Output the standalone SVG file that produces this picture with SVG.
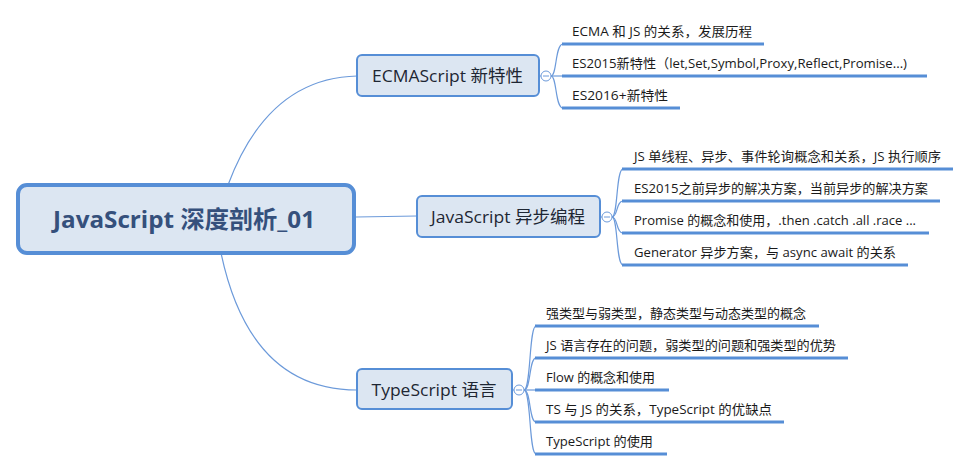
<svg xmlns="http://www.w3.org/2000/svg" width="971" height="471" viewBox="0 0 971 471">
<style>
.bg{fill:#ffffff}
.root{fill:#dce6f2;stroke:#568ed6;stroke-width:4}
.rootT{font-family:"Open Sans","Noto Sans CJK SC",sans-serif;font-size:24px;font-weight:bold;fill:#35507c}
.br{fill:#dce6f2;stroke:#568ed6;stroke-width:2}
.brT{font-family:"Open Sans","Noto Sans CJK SC",sans-serif;font-size:17px;fill:#1e2633}
.lf{font-family:"Open Sans","Noto Sans CJK SC",sans-serif;font-size:13px;fill:#1a1a1a}
.ul{stroke:#568ed6;stroke-width:3;fill:none}
.con{stroke:#6c9ada;stroke-width:1.2;fill:none}
.tog{fill:#ffffff;stroke:#6c9ada;stroke-width:1}
.togm{stroke:#6c9ada;stroke-width:1}
</style>
<rect class="bg" x="0" y="0" width="971" height="471"/>
<g id="connectors">
  <path class="con" d="M228,185 Q268,78 357,76"/>
  <path class="con" d="M356,217 L417,216"/>
  <path class="con" d="M221,253 Q250,390 357,390"/>
  <path class="con" d="M539,76 L541,76"/>
  <path class="con" d="M551,76 C557,76 555,44 563,44"/>
  <path class="con" d="M551,76 L563,76"/>
  <path class="con" d="M551,76 C557,76 555,108 563,108"/>
  <path class="con" d="M600,217 L602,217"/>
  <path class="con" d="M612,217 C618,217 616,169 623,169"/>
  <path class="con" d="M612,217 C618,217 616,201 623,201"/>
  <path class="con" d="M612,217 C618,217 616,233 623,233"/>
  <path class="con" d="M612,217 C618,217 616,265 623,265"/>
  <path class="con" d="M512,390 L514,390"/>
  <path class="con" d="M524,390 C531,390 529,326 536,326"/>
  <path class="con" d="M524,390 C531,390 529,358 536,358"/>
  <path class="con" d="M524,390 L536,390"/>
  <path class="con" d="M524,390 C531,390 529,422 536,422"/>
  <path class="con" d="M524,390 C531,390 529,454 536,454"/>
</g>
<g id="root">
  <rect class="root" x="18" y="185" width="336" height="68" rx="9"/>
  <text class="rootT" x="184" y="228" text-anchor="middle" textLength="262" lengthAdjust="spacingAndGlyphs">JavaScript 深度剖析_01</text>
</g>
<g id="branch-ecma">
  <rect class="br" x="357" y="55" width="182" height="41" rx="5"/>
  <text class="brT" x="447.5" y="82" text-anchor="middle" textLength="151" lengthAdjust="spacingAndGlyphs">ECMAScript 新特性</text>
  <circle class="tog" cx="546" cy="76" r="5"/>
  <line class="togm" x1="543" y1="76" x2="549" y2="76"/>
</g>
<g id="branch-async">
  <rect class="br" x="417" y="196" width="183" height="41" rx="5"/>
  <text class="brT" x="508" y="223" text-anchor="middle" textLength="154" lengthAdjust="spacingAndGlyphs">JavaScript 异步编程</text>
  <circle class="tog" cx="607" cy="217" r="5"/>
  <line class="togm" x1="604" y1="217" x2="610" y2="217"/>
</g>
<g id="branch-ts">
  <rect class="br" x="357" y="369" width="155" height="40" rx="5"/>
  <text class="brT" x="434" y="396" text-anchor="middle" textLength="125" lengthAdjust="spacingAndGlyphs">TypeScript 语言</text>
  <circle class="tog" cx="519" cy="390" r="5"/>
  <line class="togm" x1="516" y1="390" x2="522" y2="390"/>
</g>
<g id="leaf-ecma-1">
  <text class="lf" x="572" y="35.5" textLength="180" lengthAdjust="spacingAndGlyphs">ECMA 和 JS 的关系，发展历程</text>
  <line class="ul" x1="562" y1="44" x2="764" y2="44"/>
</g>
<g id="leaf-ecma-2">
  <text class="lf" x="572" y="67.5" textLength="335" lengthAdjust="spacingAndGlyphs">ES2015新特性（let,Set,Symbol,Proxy,Reflect,Promise...)</text>
  <line class="ul" x1="562" y1="76" x2="927" y2="76"/>
</g>
<g id="leaf-ecma-3">
  <text class="lf" x="572" y="99.5" textLength="96" lengthAdjust="spacingAndGlyphs">ES2016+新特性</text>
  <line class="ul" x1="562" y1="108" x2="680" y2="108"/>
</g>
<g id="leaf-async-1">
  <text class="lf" x="634" y="160.5" textLength="307" lengthAdjust="spacingAndGlyphs">JS 单线程、异步、事件轮询概念和关系，JS 执行顺序</text>
  <line class="ul" x1="622" y1="169" x2="953" y2="169"/>
</g>
<g id="leaf-async-2">
  <text class="lf" x="634" y="192.5" textLength="294" lengthAdjust="spacingAndGlyphs">ES2015之前异步的解决方案，当前异步的解决方案</text>
  <line class="ul" x1="622" y1="201" x2="940" y2="201"/>
</g>
<g id="leaf-async-3">
  <text class="lf" x="634" y="224.5" textLength="282" lengthAdjust="spacingAndGlyphs">Promise 的概念和使用，.then .catch .all .race ...</text>
  <line class="ul" x1="622" y1="233" x2="929" y2="233"/>
</g>
<g id="leaf-async-4">
  <text class="lf" x="634" y="256.5" textLength="262" lengthAdjust="spacingAndGlyphs">Generator 异步方案，与 async await 的关系</text>
  <line class="ul" x1="622" y1="265" x2="908" y2="265"/>
</g>
<g id="leaf-ts-1">
  <text class="lf" x="546" y="317.5" textLength="260" lengthAdjust="spacingAndGlyphs">强类型与弱类型，静态类型与动态类型的概念</text>
  <line class="ul" x1="535" y1="326" x2="819" y2="326"/>
</g>
<g id="leaf-ts-2">
  <text class="lf" x="546" y="349.5" textLength="290" lengthAdjust="spacingAndGlyphs">JS 语言存在的问题，弱类型的问题和强类型的优势</text>
  <line class="ul" x1="535" y1="358" x2="848" y2="358"/>
</g>
<g id="leaf-ts-3">
  <text class="lf" x="546" y="381.5" textLength="109" lengthAdjust="spacingAndGlyphs">Flow 的概念和使用</text>
  <line class="ul" x1="535" y1="390" x2="669" y2="390"/>
</g>
<g id="leaf-ts-4">
  <text class="lf" x="546" y="413.5" textLength="226" lengthAdjust="spacingAndGlyphs">TS 与 JS 的关系，TypeScript 的优缺点</text>
  <line class="ul" x1="535" y1="422" x2="784" y2="422"/>
</g>
<g id="leaf-ts-5">
  <text class="lf" x="546" y="445.5" textLength="107" lengthAdjust="spacingAndGlyphs">TypeScript 的使用</text>
  <line class="ul" x1="535" y1="454" x2="667" y2="454"/>
</g>
</svg>
